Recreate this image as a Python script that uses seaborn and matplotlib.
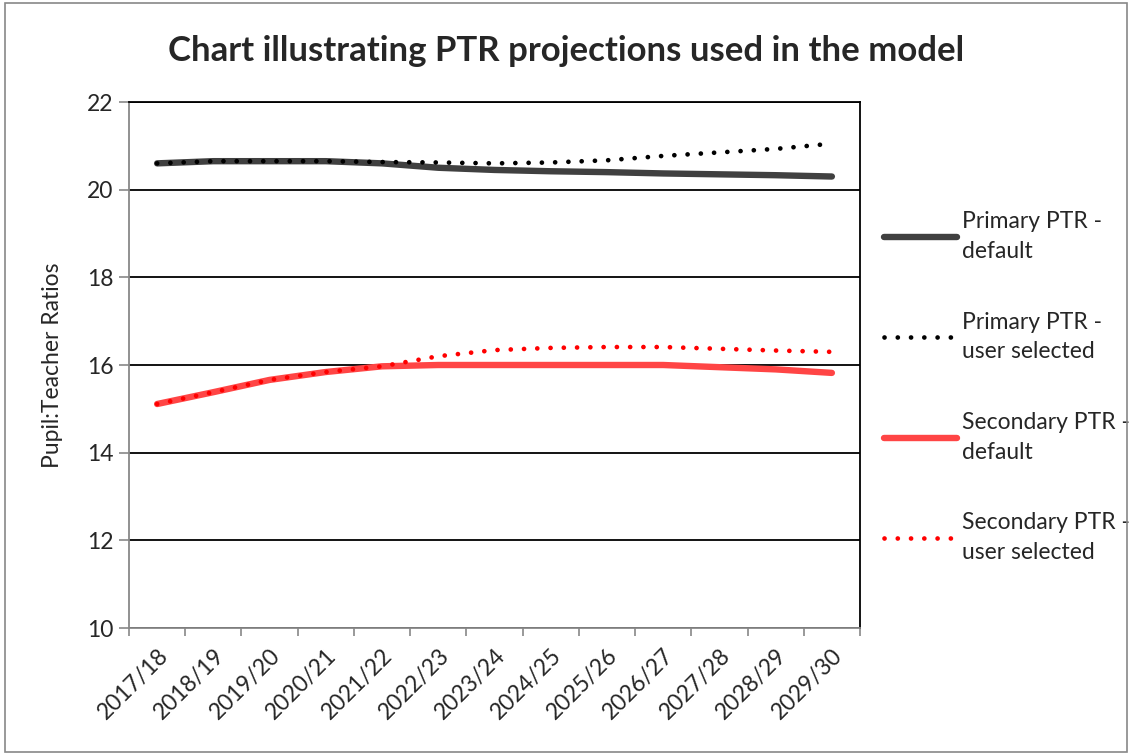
import matplotlib
matplotlib.use("Agg")
import matplotlib.pyplot as plt
import seaborn as sns
import pandas as pd
from matplotlib.patches import Rectangle
from matplotlib.ticker import FixedLocator

years = ["2017/18", "2018/19", "2019/20", "2020/21", "2021/22", "2022/23", "2023/24",
         "2024/25", "2025/26", "2026/27", "2027/28", "2028/29", "2029/30"]
primary_default = [20.6, 20.65, 20.65, 20.65, 20.6, 20.5, 20.45, 20.42, 20.4, 20.37, 20.35, 20.33, 20.3]
primary_user = [20.6, 20.65, 20.65, 20.65, 20.63, 20.62, 20.6, 20.62, 20.67, 20.77, 20.85, 20.93, 21.05]
secondary_default = [15.11, 15.38, 15.66, 15.84, 15.97, 16.0, 16.0, 16.0, 16.0, 16.0, 15.95, 15.9, 15.82]
secondary_user = [15.11, 15.38, 15.66, 15.84, 15.97, 16.2, 16.34, 16.39, 16.41, 16.41, 16.37, 16.33, 16.3]
series_names = ["Primary PTR -\ndefault", "Primary PTR -\nuser selected",
                "Secondary PTR -\ndefault", "Secondary PTR -\nuser selected"]

sns.set_theme(style="white")
plt.rcParams['font.family'] = ['Lato', 'DejaVu Sans']

fig = plt.figure(figsize=(11.32, 7.55), dpi=100)
ax = fig.add_axes([129/1132, 1-628/755, (860-129)/1132, (628-102)/755])

df = pd.DataFrame({"x": list(range(len(years))) * 4,
                   "y": primary_default + primary_user + secondary_default + secondary_user,
                   "s": sum([[n] * len(years) for n in series_names], [])})

styles = [
    dict(color="#404040", linewidth=4.6, linestyle="-", solid_capstyle="round"),
    dict(color="black", linewidth=3.4, linestyle=(0, (0.01, 2.8)), dash_capstyle="round"),
    dict(color="#FF4545", linewidth=4.6, linestyle="-", solid_capstyle="round"),
    dict(color="#FF0000", linewidth=3.4, linestyle=(0, (0.01, 2.8)), dash_capstyle="round"),
]
for name, st in zip(series_names, styles):
    sns.lineplot(data=df[df["s"] == name], x="x", y="y", ax=ax, label=name, **st)

fs = 16.5
ax.set_xlim(-0.5, len(years) - 0.5)
ax.set_ylim(10, 22)
ax.set_yticks([10, 12, 14, 16, 18, 20, 22])
ax.yaxis.grid(True, color="black", linewidth=1.3)
ax.set_axisbelow(True)
ax.set_xticks(range(len(years)))
ax.set_xticklabels(years, rotation=45, ha="right", rotation_mode="anchor", fontsize=fs)
ax.xaxis.set_minor_locator(FixedLocator([i - 0.5 for i in range(len(years) + 1)]))
ax.tick_params(axis="x", which="major", length=0, pad=12)
ax.tick_params(axis="x", which="minor", length=6, width=1.2, color="#888888", direction="out", bottom=True)
ax.tick_params(axis="y", length=7, width=1.2, color="#888888", direction="out", left=True, labelsize=fs, pad=4)
ax.set_xlabel("")
ax.set_ylabel("Pupil:Teacher Ratios", fontsize=fs, labelpad=17)

for side in ["left", "bottom"]:
    ax.spines[side].set_color("#888888")
    ax.spines[side].set_linewidth(1.3)
for side in ["top", "right"]:
    ax.spines[side].set_color("black")
    ax.spines[side].set_linewidth(1.3)
    ax.spines[side].set_visible(True)

fig.text(0.5, 1 - 51/755, "Chart illustrating PTR projections used in the model",
         ha="center", va="center", fontsize=25, fontweight="bold")

leg = ax.legend(loc="upper left", bbox_to_anchor=(1.02, 0.81), frameon=False,
                fontsize=fs, handlelength=3.2, handletextpad=0.2, labelspacing=2.18,
                borderaxespad=0)
for t in leg.get_texts():
    t.set_linespacing(1.5)

fig.patches.append(Rectangle((5/1132, 3/755), 1 - 10/1132, 1 - 6/755, transform=fig.transFigure,
                             fill=False, edgecolor="#888888", linewidth=1.2))

fig.savefig("out.png", dpi=100)
